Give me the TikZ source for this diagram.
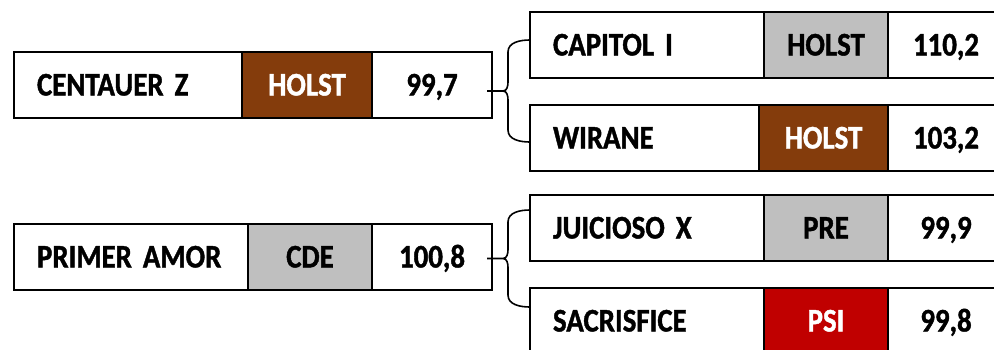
\documentclass[tikz,border=0pt]{standalone}
\usepackage{fontspec}
\newfontfamily\cellfont{Carlito}[FakeStretch=0.875, BoldFeatures={FakeBold=1.2}]
\newcommand\cellsty{\cellfont\bfseries\fontsize{33}{36}\selectfont\spaceskip 0.17em\relax}
\usetikzlibrary{positioning}
\definecolor{holstbrown}{HTML}{843C0C}
\definecolor{cellgray}{HTML}{BFBFBF}
\definecolor{psired}{HTML}{C00000}

\begin{document}
\begin{tikzpicture}[x=1pt, y=-1pt,
    cell/.style={draw, line width=2.6pt, inner sep=0pt, outer sep=0pt, minimum height=66pt,
      text height=21pt, text depth=0pt, font=\cellsty},
    namecell/.style={cell, anchor=north west, inner xsep=23pt, text width=#1, align=left},
    tagcell/.style={cell, minimum width=#1},
    valcell/.style={cell, minimum width=#1},
    bracket/.style={line width=1.6pt}
]
  \useasboundingbox (0,0) rectangle (994,349);

  % Upper group
  \node[namecell=182pt] (cent) at (14,52) {CENTAUER Z};
  \node[tagcell=130pt, fill=holstbrown, text=white, right=0pt of cent] (centt) {HOLST};
  \node[valcell=120pt, right=0pt of centt] (centv) {99,7};

  \node[namecell=188pt] (cap) at (530,12) {CAPITOL I};
  \node[tagcell=124pt, fill=cellgray, right=0pt of cap] (capt) {HOLST};
  \node[valcell=116pt, right=0pt of capt] (capv) {110,2};

  \node[namecell=183pt] (wir) at (530,105) {WIRANE};
  \node[tagcell=129pt, fill=holstbrown, text=white, right=0pt of wir] (wirt) {HOLST};
  \node[valcell=116pt, right=0pt of wirt] (wirv) {103,2};

  % Lower group
  \node[namecell=188pt] (prim) at (14,224) {PRIMER AMOR};
  \node[tagcell=124pt, fill=cellgray, right=0pt of prim] (primt) {CDE};
  \node[valcell=120pt, right=0pt of primt] (primv) {100,8};

  \node[namecell=188pt] (jui) at (530,195) {JUICIOSO X};
  \node[tagcell=124pt, fill=cellgray, right=0pt of jui] (juit) {PRE};
  \node[valcell=116pt, right=0pt of juit] (juiv) {99,9};

  \node[namecell=188pt] (sac) at (530,288) {SACRISFICE};
  \node[tagcell=124pt, fill=psired, text=white, right=0pt of sac] (sact) {PSI};
  \node[valcell=116pt, right=0pt of sact] (sacv) {99,8};

  % Braces
  \draw[bracket] ([yshift=5pt]cap.west) to[out=180, in=90] ++(-22,12) -- ++(0,30)
    to[out=-90, in=0] ++(-5,9) -- ++(-16,0) ++(16,0)
    to[out=0, in=90] ++(5,9) -- ++(0,30) to[out=-90, in=180] ++(22,12);
  \draw[bracket] ([yshift=18pt]jui.west) to[out=180, in=90] ++(-22,12) -- ++(0,27.5)
    to[out=-90, in=0] ++(-5,9) -- ++(-16,0) ++(16,0)
    to[out=0, in=90] ++(5,9) -- ++(0,27.5) to[out=-90, in=180] ++(22,12);
\end{tikzpicture}
\end{document}
